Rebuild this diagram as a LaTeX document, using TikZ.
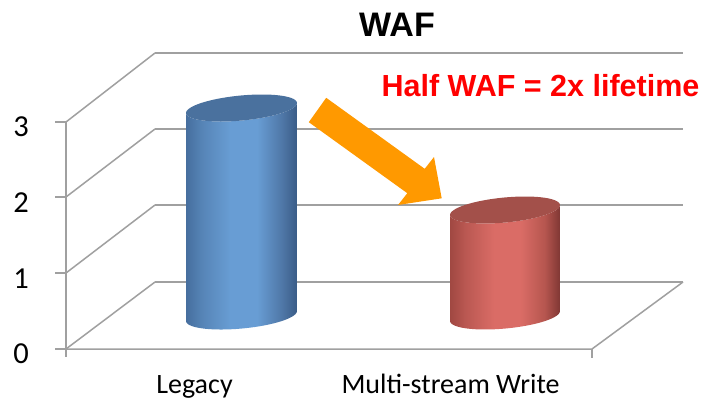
\documentclass[tikz,border=0pt]{standalone}
\usepackage{fontspec}
\setmainfont{Carlito}
\newfontfamily\arialfont{Liberation Sans}
\definecolor{gridc}{RGB}{160,160,160}
\definecolor{bA}{RGB}{70,110,158}
\definecolor{bB}{RGB}{86,132,182}
\definecolor{bL}{RGB}{104,157,212}
\definecolor{bC}{RGB}{80,120,168}
\definecolor{bD}{RGB}{58,92,135}
\definecolor{bTop}{RGB}{74,113,158}
\definecolor{rA}{RGB}{160,72,66}
\definecolor{rB}{RGB}{186,88,82}
\definecolor{rL}{RGB}{218,108,102}
\definecolor{rC}{RGB}{182,86,79}
\definecolor{rD}{RGB}{128,55,52}
\definecolor{rTop}{RGB}{163,80,74}
\definecolor{arrowc}{RGB}{255,153,0}
\definecolor{redtxt}{RGB}{255,0,0}
\pgfdeclarehorizontalshading{blueside}{100bp}{color(0bp)=(bA); color(25bp)=(bA); color(32bp)=(bB); color(45bp)=(bL); color(57bp)=(bL); color(68bp)=(bC); color(75bp)=(bD); color(100bp)=(bD)}
\pgfdeclarehorizontalshading{redside}{100bp}{color(0bp)=(rA); color(25bp)=(rA); color(32bp)=(rB); color(45bp)=(rL); color(57bp)=(rL); color(68bp)=(rC); color(75bp)=(rD); color(100bp)=(rD)}
% cx, ytop, ybot, a, b, theta, shading, top colour
\newcommand\drawcyl[8]{%
  \shade[shading=#7]
    plot[domain=178.8:358.8, samples=60, variable=\x]
      ({#1+#4*cos(\x)*cos(#6)-#5*sin(\x)*sin(#6)},{#3-#4*cos(\x)*sin(#6)-#5*sin(\x)*cos(#6)})
    -- plot[domain=358.8:178.8, samples=60, variable=\x]
      ({#1+#4*cos(\x)*cos(#6)-#5*sin(\x)*sin(#6)},{#2-#4*cos(\x)*sin(#6)-#5*sin(\x)*cos(#6)})
    -- cycle;
  \fill[#8]
    plot[domain=0:360, samples=90, variable=\x]
      ({#1+#4*cos(\x)*cos(#6)-#5*sin(\x)*sin(#6)},{#2-#4*cos(\x)*sin(#6)-#5*sin(\x)*cos(#6)})
    -- cycle;
}
\tikzset{
  gridline/.style={draw=gridc, line width=1.5pt},
  axislabel/.style={font=\fontsize{30.5}{32}\selectfont, inner sep=0pt, anchor=base},
  catlabel/.style={font=\fontsize{28}{30}\selectfont, inner sep=0pt, anchor=base},
}
\begin{document}
\begin{tikzpicture}[x=1pt,y=-1pt]
\useasboundingbox (0,0) rectangle (708,404);
\fill[white] (0,0) rectangle (708,404);
% back wall lines
\foreach \yb in {53,129,205,282}{
  \draw[gridline] (155,\yb) -- (683,\yb);
}
% left wall diagonals
\foreach \yf/\yb in {122/53,197/129,273/205,349/282}{
  \draw[gridline] (66,\yf) -- (155,\yb);
  \draw[gridline] (55,\yf) -- (66,\yf);
}
% front axis
\draw[gridline] (66,122) -- (66,357);
% floor
\draw[gridline] (66,349) -- (592,349) -- (683,282);
\draw[gridline] (592,349) -- (592,358);
% cylinders
\drawcyl{241.5}{108}{316}{55.7}{12.5}{5.4}{blueside}{bTop}
\drawcyl{505}{210}{316}{55.2}{12.5}{5.4}{redside}{rTop}
% arrow
\fill[arrowc] (326.2,97.8) -- (424.7,168.8) -- (434,157) -- (441.7,198.3)
  -- (398,205) -- (407.3,193.2) -- (308.8,122.2) -- cycle;
% texts
\node[font=\arialfont\bfseries\fontsize{34}{36}\selectfont, inner sep=0pt, anchor=base] (title) at (397,37) {WAF};
\node[font=\arialfont\bfseries\fontsize{30.5}{32}\selectfont, text=redtxt, inner sep=0pt, anchor=base] (note) at (540.5,96) {Half WAF = 2x lifetime};
\node[axislabel] (y3) at (21,136) {3};
\node[axislabel] (y2) at (21,212) {2};
\node[axislabel] (y1) at (21,288) {1};
\node[axislabel] (y0) at (21,363) {0};
\node[catlabel] (legacy) at (194.5,393) {Legacy};
\node[catlabel] (multi) at (450.5,393) {Multi-stream Write};
\end{tikzpicture}
\end{document}
